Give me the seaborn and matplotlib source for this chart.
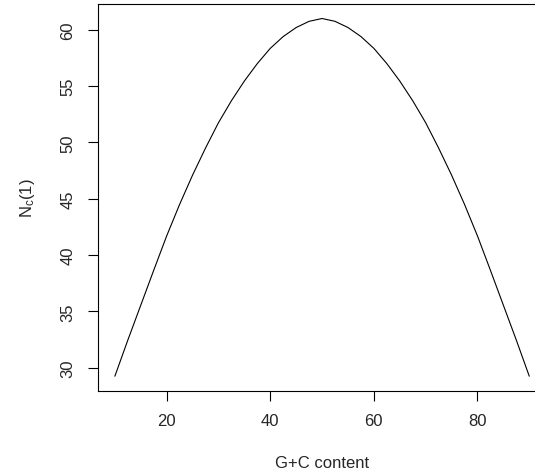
import numpy as np
import pandas as pd
import matplotlib
matplotlib.use("Agg")
import matplotlib.pyplot as plt
import seaborn as sns

# values (left half up to the peak, the right half mirrors it)
gc_left = [10, 12.5, 15, 17.5, 20, 22.5, 25, 27.5, 30, 32.5, 35, 37.5, 40, 42.5, 45, 47.5, 50]
nc_left = [29.25, 32.45, 35.55, 38.65, 41.7, 44.5, 47.1, 49.5, 51.75, 53.7, 55.45, 57.0, 58.35, 59.4, 60.2, 60.75, 61.0]
gc_right = [52.5, 55, 57.5, 60, 62.5, 65, 67.5, 70, 72.5, 75, 77.5, 80, 82.5, 85, 87.5, 90]
nc_right = [60.75, 60.2, 59.4, 58.35, 57.0, 55.45, 53.7, 51.75, 49.5, 47.1, 44.5, 41.7, 38.65, 35.55, 32.45, 29.25]

x_ticks = [20, 40, 60, 80]
y_ticks = [30, 35, 40, 45, 50, 55, 60]

df = pd.DataFrame({"gc": gc_left + gc_right, "nc": nc_left + nc_right})

sns.set_theme(style="white")
plt.rcParams['font.family'] = ['Liberation Sans', 'DejaVu Sans']
plt.rcParams['mathtext.fontset'] = 'custom'
plt.rcParams['mathtext.rm'] = 'Liberation Sans'
plt.rcParams['mathtext.it'] = 'Liberation Sans'
plt.rcParams['mathtext.default'] = 'regular'

fig = plt.figure(figsize=(5.35, 4.77), dpi=100)
# R style plot region, the right edge of the box falls outside the picture
ax = fig.add_axes([0.1837, 0.1792, 0.8366, 0.8099])

sns.lineplot(data=df, x="gc", y="nc", color="black", linewidth=0.8, ax=ax)
ax.margins(x=0.04, y=0.04)

ax.set_xticks(x_ticks)
ax.set_yticks(y_ticks)
ax.tick_params(axis="both", direction="out", length=7, width=0.8, color="black",
               labelsize=12, pad=9.5, bottom=True, left=True)
for lab in ax.get_yticklabels():
    lab.set_rotation(90)
    lab.set_va("center")

for sp in ax.spines.values():
    sp.set_color("black")
    sp.set_linewidth(0.8)

ax.set_xlabel("G+C content", fontsize=12, labelpad=19)
ax.set_ylabel(r"N$_c$(1)", fontsize=12, labelpad=17)

fig.savefig("out.png", dpi=100, facecolor="white")
